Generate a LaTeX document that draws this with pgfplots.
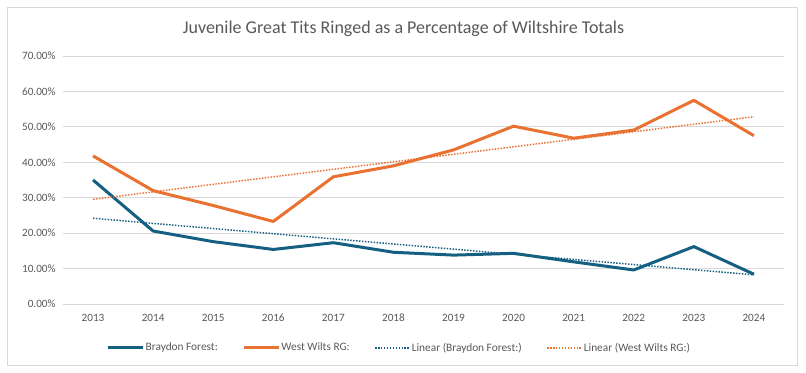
\documentclass[border=0pt]{standalone}
\usepackage{pgfplots}
\usepackage{pgfplotstable}
\pgfplotsset{compat=1.18}
\usepackage{fontspec}
\setmainfont{Carlito}
\definecolor{bfcol}{HTML}{156082}
\definecolor{wwcol}{HTML}{E97132}
\definecolor{gridc}{HTML}{D9D9D9}
\definecolor{txt}{HTML}{595959}
\pgfplotstableread{
year idx bf ww
2013 0 35.0 41.8
2014 1 20.6 32.0
2015 2 17.6 27.8
2016 3 15.4 23.3
2017 4 17.3 35.9
2018 5 14.6 39.0
2019 6 13.8 43.5
2020 7 14.3 50.2
2021 8 11.9 46.8
2022 9 9.6 49.1
2023 10 16.2 57.5
2024 11 8.4 47.5
}\datatable
\begin{document}
\begin{tikzpicture}
\useasboundingbox (0,0) rectangle (604.5pt,279pt);
\fill[white] (0,0) rectangle (604.5pt,279pt);
\draw[gridc, line width=0.75pt] (5.5pt,5pt) rectangle (598pt,273.5pt);
\node[text=txt, font=\fontsize{13.5}{16}\selectfont] at (302.6pt,257.3pt) {Juvenile Great Tits Ringed as a Percentage of Wiltshire Totals};
\begin{axis}[
  at={(47.25pt,51pt)}, anchor=south west,
  scale only axis, width=540.75pt, height=186pt,
  xmin=2012.5, xmax=2024.5, ymin=0, ymax=70,
  xtick={2013,...,2024}, ytick={0,10,...,70},
  xticklabel style={/pgf/number format/1000 sep={}},
  /pgf/number format/assume math mode=true,
  yticklabel={\pgfmathprintnumber[fixed,fixed zerofill,precision=2]{\tick}\%},
  ticklabel style={text=txt, font=\fontsize{8.4}{10}\selectfont},
  major tick length=0pt,
  ymajorgrids, grid style={gridc, line width=0.75pt},
  axis line style={draw=none},
  xticklabel shift=4pt, yticklabel shift=2pt,
  clip=false,
  legend columns=4,
  legend style={at={(0.466,-0.177)}, anchor=center, draw=none, fill=none,
    font=\fontsize{8.5}{10}\selectfont, text=txt,
    /tikz/every even column/.append style={column sep=17.5pt},
    nodes={inner sep=1pt}},
  legend image code/.code={\draw[#1] (0pt,0pt) -- (26pt,0pt);},
]
\addplot[bfcol, line width=2.25pt, no markers, line join=round] table[x=year,y=bf] {\datatable};
\addlegendentry{Braydon Forest:}
\addplot[wwcol, line width=2.25pt, no markers, line join=round] table[x=year,y=ww] {\datatable};
\addlegendentry{West Wilts RG:}
\addplot[bfcol, line width=1.1pt, dash pattern=on 1.1pt off 1.1pt, no markers] table[x=year,y={create col/linear regression={x=idx,y=bf}}] {\datatable};
\addlegendentry{Linear (Braydon Forest:)}
\addplot[wwcol, line width=1.1pt, dash pattern=on 1.1pt off 1.1pt, no markers] table[x=year,y={create col/linear regression={x=idx,y=ww}}] {\datatable};
\addlegendentry{Linear (West Wilts RG:)}
\end{axis}
\end{tikzpicture}
\end{document}
